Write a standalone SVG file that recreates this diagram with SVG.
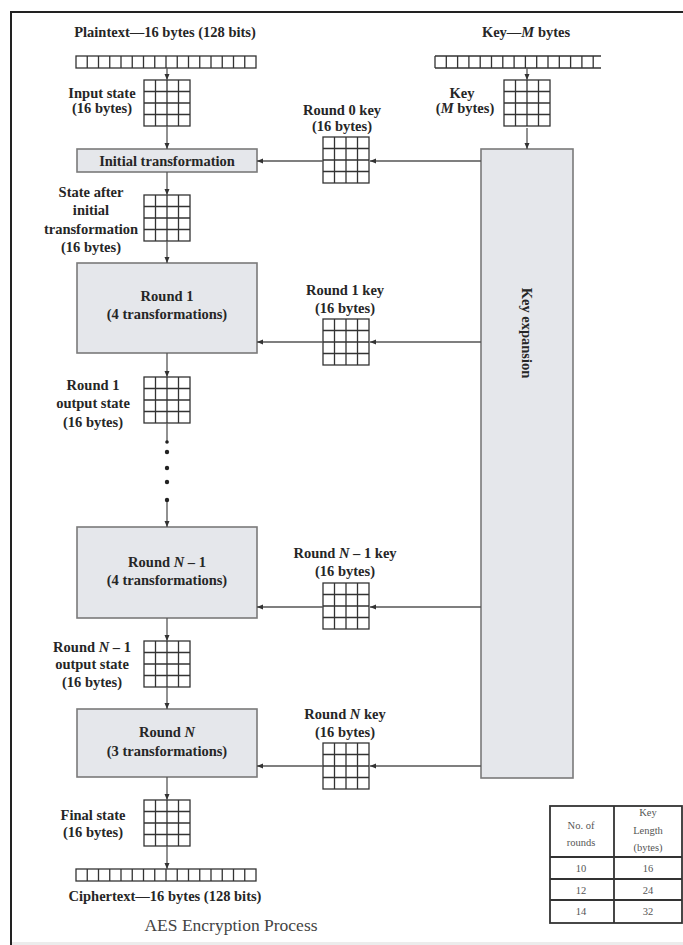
<svg xmlns="http://www.w3.org/2000/svg" xmlns:xlink="http://www.w3.org/1999/xlink" width="683" height="945" viewBox="0 0 683 945">
<style>
.lbl{font-family:"Liberation Serif","Times New Roman",serif;font-weight:bold;font-size:14.5px;fill:#262626;text-anchor:middle}
.box{fill:#e5e7eb;stroke:#7a7a7a;stroke-width:1.6}
.gl{fill:none;stroke:#333;stroke-width:1.3}
.con{fill:none;stroke:#555;stroke-width:1.3}
.tbl{font-family:"Liberation Serif","Times New Roman",serif;font-size:10.5px;fill:#555;text-anchor:middle}
.tl{fill:none;stroke:#333;stroke-width:1.8}
.cap{font-family:"Liberation Serif","Times New Roman",serif;font-size:17.5px;fill:#444;text-anchor:middle}
</style>
<defs>
<marker id="ah" markerUnits="userSpaceOnUse" markerWidth="6" markerHeight="6" refX="6" refY="3" orient="auto">
<path d="M0,0.5 L6,3 L0,5.5 z" fill="#333"/>
</marker>
<g id="grid">
<rect x="0" y="0" width="46" height="46" fill="#fff" class="gl"/>
<path class="gl" d="M11.5,0V46M23,0V46M34.5,0V46M0,11.5H46M0,23H46M0,34.5H46"/>
</g>
<g id="bar16">
<rect x="0" y="0" width="180" height="12" fill="#fff" class="gl"/>
<path class="gl" d="M11.25,0V12M22.5,0V12M33.75,0V12M45,0V12M56.25,0V12M67.5,0V12M78.75,0V12M90,0V12M101.25,0V12M112.5,0V12M123.75,0V12M135,0V12M146.25,0V12M157.5,0V12M168.75,0V12"/>
</g>
</defs>
<rect x="0" y="0" width="683" height="945" fill="#fff"/>
<rect x="12" y="942" width="671" height="3" fill="#ececec"/>
<path d="M11,945V12H683" fill="none" stroke="#222" stroke-width="2"/>

<g id="plaintext">
<text class="lbl" x="165" y="37">Plaintext—16 bytes (128 bits)</text>
<use xlink:href="#bar16" x="76" y="56"/>
</g>
<g id="keyinput">
<text class="lbl" x="526" y="37">Key—<tspan font-style="italic">M</tspan> bytes</text>
<path class="gl" d="M435,56H601M435,68H601M435,56V68M446.3,56V68M457.6,56V68M468.9,56V68M480.2,56V68M491.5,56V68M502.8,56V68M514.1,56V68M525.4,56V68M536.7,56V68M548,56V68M559.3,56V68M570.6,56V68M581.9,56V68M593.2,56V68"/>
</g>
<g id="input-state">
<use xlink:href="#grid" x="144" y="80"/>
<text class="lbl" x="102" y="98">Input state</text>
<text class="lbl" x="102" y="113">(16 bytes)</text>
</g>
<g id="key-state">
<use xlink:href="#grid" x="504" y="80"/>
<text class="lbl" x="462" y="98">Key</text>
<text class="lbl" x="465" y="113">(<tspan font-style="italic">M</tspan> bytes)</text>
</g>
<g id="initial">
<rect class="box" x="77" y="149" width="180" height="23"/>
<text class="lbl" x="167" y="166">Initial transformation</text>
</g>
<g id="round0key">
<text class="lbl" x="342" y="115">Round 0 key</text>
<text class="lbl" x="342" y="131">(16 bytes)</text>
<use xlink:href="#grid" x="323" y="137"/>
</g>
<g id="keyexp">
<rect class="box" x="481" y="149" width="92" height="629"/>
<text class="lbl" transform="translate(527,333) rotate(90)" x="0" y="5">Key expansion</text>
</g>
<g id="state-after">
<use xlink:href="#grid" x="144" y="195"/>
<text class="lbl" x="91" y="197">State after</text>
<text class="lbl" x="91" y="215">initial</text>
<text class="lbl" x="91" y="234">transformation</text>
<text class="lbl" x="91" y="252">(16 bytes)</text>
</g>
<g id="round1">
<rect class="box" x="77" y="263" width="180" height="90"/>
<text class="lbl" x="167" y="301">Round 1</text>
<text class="lbl" x="167" y="319">(4 transformations)</text>
</g>
<g id="round1key">
<text class="lbl" x="345" y="295">Round 1 key</text>
<text class="lbl" x="345" y="313">(16 bytes)</text>
<use xlink:href="#grid" x="323" y="319"/>
</g>
<g id="round1out">
<use xlink:href="#grid" x="144" y="377"/>
<text class="lbl" x="93" y="390">Round 1</text>
<text class="lbl" x="93" y="408">output state</text>
<text class="lbl" x="93" y="427">(16 bytes)</text>
</g>
<g id="roundN1">
<rect class="box" x="77" y="527" width="180" height="91"/>
<text class="lbl" x="167" y="567">Round <tspan font-style="italic">N</tspan> – 1</text>
<text class="lbl" x="167" y="585">(4 transformations)</text>
</g>
<g id="roundN1key">
<text class="lbl" x="345" y="558">Round <tspan font-style="italic">N</tspan> – 1 key</text>
<text class="lbl" x="345" y="576">(16 bytes)</text>
<use xlink:href="#grid" x="323" y="583"/>
</g>
<g id="roundN1out">
<use xlink:href="#grid" x="144" y="641"/>
<text class="lbl" x="92" y="652">Round <tspan font-style="italic">N</tspan> – 1</text>
<text class="lbl" x="92" y="669">output state</text>
<text class="lbl" x="92" y="687">(16 bytes)</text>
</g>
<g id="roundN">
<rect class="box" x="77" y="709" width="180" height="68"/>
<text class="lbl" x="167" y="737">Round <tspan font-style="italic">N</tspan></text>
<text class="lbl" x="167" y="756">(3 transformations)</text>
</g>
<g id="roundNkey">
<text class="lbl" x="345" y="719">Round <tspan font-style="italic">N</tspan> key</text>
<text class="lbl" x="345" y="737">(16 bytes)</text>
<use xlink:href="#grid" x="323" y="743"/>
</g>
<g id="final">
<use xlink:href="#grid" x="144" y="800"/>
<text class="lbl" x="93" y="820">Final state</text>
<text class="lbl" x="93" y="837">(16 bytes)</text>
</g>
<g id="ciphertext">
<use xlink:href="#bar16" x="76" y="869"/>
<text class="lbl" x="165" y="901">Ciphertext—16 bytes (128 bits)</text>
</g>

<g id="connectors">
<path class="con" marker-end="url(#ah)" d="M167,68V80"/>
<path class="con" marker-end="url(#ah)" d="M167,126V149"/>
<path class="con" marker-end="url(#ah)" d="M167,172V195"/>
<path class="con" marker-end="url(#ah)" d="M167,241V263"/>
<path class="con" marker-end="url(#ah)" d="M167,353V377"/>
<path class="con" d="M167,423V442"/>
<g fill="#222">
<circle cx="167" cy="442" r="1.8"/>
<circle cx="167" cy="452" r="2.2"/>
<circle cx="167" cy="468" r="2.2"/>
<circle cx="167" cy="482" r="2.2"/>
<circle cx="167" cy="500" r="2.2"/>
</g>
<path class="con" marker-end="url(#ah)" d="M167,502V527"/>
<path class="con" marker-end="url(#ah)" d="M167,618V641"/>
<path class="con" marker-end="url(#ah)" d="M167,687V709"/>
<path class="con" marker-end="url(#ah)" d="M167,777V800"/>
<path class="con" marker-end="url(#ah)" d="M167,846V869"/>
<path class="con" marker-end="url(#ah)" d="M527,68V80"/>
<path class="con" marker-end="url(#ah)" d="M527,128V149"/>
<path class="con" marker-end="url(#ah)" d="M481,161H370"/>
<path class="con" marker-end="url(#ah)" d="M323,161H257"/>
<path class="con" marker-end="url(#ah)" d="M481,342H370"/>
<path class="con" marker-end="url(#ah)" d="M323,342H257"/>
<path class="con" marker-end="url(#ah)" d="M481,607H370"/>
<path class="con" marker-end="url(#ah)" d="M323,607H257"/>
<path class="con" marker-end="url(#ah)" d="M481,766H370"/>
<path class="con" marker-end="url(#ah)" d="M323,766H257"/>
</g>

<g id="table">
<rect class="tl" x="550" y="806" width="132" height="117" fill="#fff"/>
<path class="tl" d="M614,806V923M550,857H682M550,879H682M550,900H682"/>
<text class="tbl" x="581" y="829">No. of</text>
<text class="tbl" x="581" y="846">rounds</text>
<text class="tbl" x="648" y="816">Key</text>
<text class="tbl" x="648" y="834">Length</text>
<text class="tbl" x="648" y="851">(bytes)</text>
<text class="tbl" x="581" y="872">10</text>
<text class="tbl" x="648" y="872">16</text>
<text class="tbl" x="581" y="894">12</text>
<text class="tbl" x="648" y="894">24</text>
<text class="tbl" x="581" y="915">14</text>
<text class="tbl" x="648" y="915">32</text>
</g>
<text class="cap" x="231" y="931">AES Encryption Process</text>
</svg>
